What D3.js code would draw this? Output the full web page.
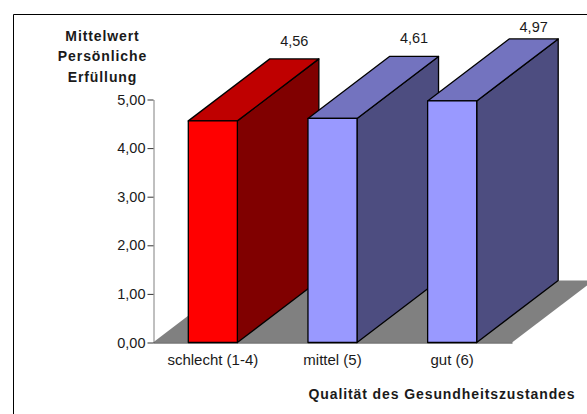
<!DOCTYPE html>
<html lang="de">
<head>
    <meta charset="UTF-8">
    <title>Mittelwert Persönliche Erfüllung</title>
    <script src="https://d3js.org/d3.v7.min.js"></script>
    <style>
        html, body { margin: 0; padding: 0; background: #fff; }
        svg { display: block; font-family: "Liberation Sans", Arial, sans-serif; }
        text { fill: #1a1a1a; }
        .tick-label, .axis text { font-family: "Liberation Sans", Arial, sans-serif; font-size: 14.5px; }
        .x-axis text { font-size: 15px; }
        .title { font-size: 14px; font-weight: bold; letter-spacing: 0.9px; }
    </style>
</head>
<body>
    <svg width="587" height="414"></svg>

    <script>
        // Werte
        const categories = ["schlecht (1-4)", "mittel (5)", "gut (6)"];
        const values = [4.56, 4.61, 4.97];
        const valueLabels = ["4,56", "4,61", "4,97"];
        const yTicks = [0, 1, 2, 3, 4, 5];
        const yTitleLines = ["Mittelwert", "Persönliche", "Erfüllung"];
        const xTitle = "Qualität des Gesundheitszustandes";

        const faceColors = [
            { front: "#ff0000", top: "#bf0000", side: "#800000" },
            { front: "#9999ff", top: "#7373bf", side: "#4d4d80" },
            { front: "#9999ff", top: "#7373bf", side: "#4d4d80" }
        ];

        const svg = d3.select("svg");

        // Rahmen: rechts und unten laeuft er aus dem Bild
        svg.append("path")
            .attr("d", d3.line()([[13.5, 414], [13.5, 14.5], [587, 14.5]]))
            .attr("fill", "none")
            .attr("stroke", "#000");

        const x = d3.scaleBand()
            .domain(categories)
            .range([153, 512])
            .paddingInner(0.59)
            .paddingOuter(0.295);

        const y = d3.scaleLinear()
            .domain([0, 5])
            .range([342.5, 99.5]);

        // 3D-Tiefe
        const depthX = 81.5;
        const depthY = 62;
        const poly = d3.line();

        // Boden
        svg.append("path")
            .attr("d", poly([
                [x.range()[0], y(0)],
                [x.range()[1], y(0)],
                [x.range()[1] + depthX, y(0) - depthY],
                [x.range()[0] + depthX, y(0) - depthY]
            ]) + "Z")
            .attr("fill", "#808080");

        // Achsen
        const yAxis = svg.append("g")
            .attr("class", "axis")
            .attr("transform", "translate(153.5,0)")
            .call(d3.axisLeft(y)
                .tickValues(yTicks)
                .tickSize(6)
                .tickSizeOuter(0)
                .tickPadding(2)
                .tickFormat(d => d3.format(".2f")(d).replace(".", ",")));
        yAxis.select(".domain").attr("stroke", "#808080");
        yAxis.selectAll(".tick line").attr("stroke", "#333");

        const xAxis = svg.append("g")
            .attr("class", "axis x-axis")
            .attr("transform", `translate(0,${y(0)})`)
            .call(d3.axisBottom(x).tickSize(0).tickPadding(12));
        xAxis.select(".domain").attr("stroke", "#333");

        // Balken
        const bars = svg.selectAll(".bar")
            .data(values)
            .enter().append("g")
            .attr("class", "bar")
            .attr("stroke", "#000")
            .attr("stroke-width", 1.3)
            .attr("stroke-linejoin", "round");

        const barLeft = (d, i) => x(categories[i]);
        const barRight = (d, i) => x(categories[i]) + x.bandwidth();

        bars.append("path")
            .attr("fill", (d, i) => faceColors[i].side)
            .attr("d", (d, i) => poly([
                [barRight(d, i), y(d)],
                [barRight(d, i) + depthX, y(d) - depthY],
                [barRight(d, i) + depthX, y(0) - depthY],
                [barRight(d, i), y(0)]
            ]) + "Z");

        bars.append("path")
            .attr("fill", (d, i) => faceColors[i].top)
            .attr("d", (d, i) => poly([
                [barLeft(d, i), y(d)],
                [barLeft(d, i) + depthX, y(d) - depthY],
                [barRight(d, i) + depthX, y(d) - depthY],
                [barRight(d, i), y(d)]
            ]) + "Z");

        bars.append("rect")
            .attr("fill", (d, i) => faceColors[i].front)
            .attr("x", barLeft)
            .attr("y", d => y(d))
            .attr("width", x.bandwidth())
            .attr("height", d => y(0) - y(d));

        // Wertbeschriftung, oben nicht ueber den Rahmen hinaus
        svg.selectAll(".value-label")
            .data(values)
            .enter().append("text")
            .attr("class", "tick-label value-label")
            .attr("text-anchor", "middle")
            .attr("x", (d, i) => x(categories[i]) + x.bandwidth() / 2 + depthX)
            .attr("y", d => Math.max(y(d) - depthY - 13, 32))
            .text((d, i) => valueLabels[i]);

        // Titel
        svg.selectAll(".y-title")
            .data(yTitleLines)
            .enter().append("text")
            .attr("class", "title y-title")
            .attr("text-anchor", "middle")
            .attr("x", 102.5)
            .attr("y", (d, i) => 40.5 + i * 20.7)
            .text(d => d);

        svg.append("text")
            .attr("class", "title")
            .attr("text-anchor", "middle")
            .attr("x", 442)
            .attr("y", 399)
            .text(xTitle);
    </script>
</body>
</html>
